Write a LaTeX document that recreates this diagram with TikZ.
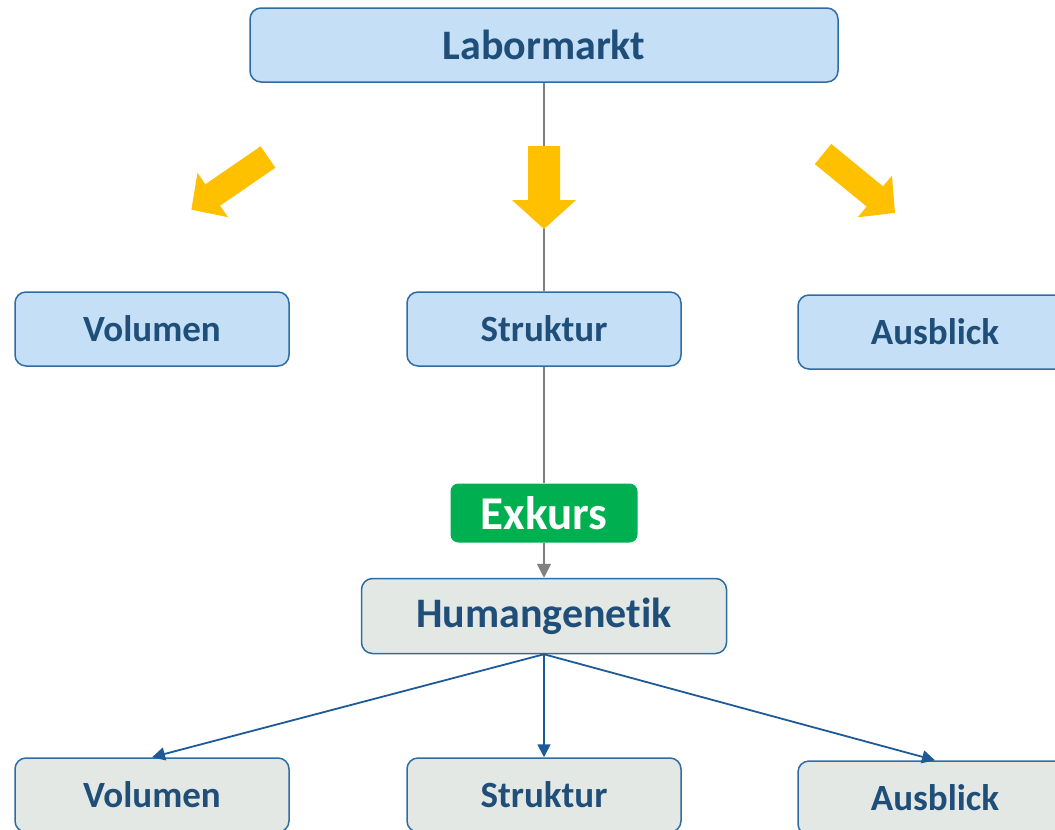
\documentclass[tikz,border=0pt]{standalone}
\usepackage{fontspec}
\setmainfont{Carlito}[Ligatures=CommonOff]
\usetikzlibrary{arrows.meta}
\definecolor{boxblue}{HTML}{C5DFF7}
\definecolor{boxgrey}{HTML}{E3E8E5}
\definecolor{edgeblue}{HTML}{2E6CA6}
\definecolor{lineblue}{HTML}{1F5A98}
\definecolor{textblue}{HTML}{1F4E79}
\definecolor{gold}{HTML}{FFC000}
\definecolor{exgreen}{HTML}{00B050}
\tikzset{
  topbox/.style={draw=edgeblue,line width=1.5pt,fill=boxblue,rounded corners=11pt,
    text=textblue,font=\bfseries\fontsize{37}{44}\selectfont,
    minimum width=274pt,minimum height=74pt,inner sep=0pt},
  lowbox/.style={topbox,fill=boxgrey},
  exkbox/.style={fill=exgreen,rounded corners=8pt,text=white,
    font=\bfseries\fontsize{47}{54}\selectfont,
    minimum width=187pt,minimum height=59pt,inner sep=0pt},
  greyline/.style={draw=gray,line width=1.8pt},
  blueline/.style={draw=lineblue,line width=1.8pt,-{Triangle[length=13pt,width=13pt]}}
}
\begin{document}
\begin{tikzpicture}[x=1pt,y=-1pt,line join=round]
        \useasboundingbox (0,0) rectangle (1055,830);
        \clip (0,0) rectangle (1055,830);
        \node[topbox,minimum width=588pt,font=\bfseries\fontsize{42}{50}\selectfont] (lab) at (544,45) {Labormarkt};
        \node[topbox] (vol1) at (152,329) {Volumen};
        \node[topbox] (str1) at (544,329) {Struktur};
        \node[topbox] (aus1) at (935,332) {Ausblick};
        \node[exkbox] (exk) at (544,513) {Exkurs};
        \node[lowbox,minimum width=365pt,minimum height=75pt,font=\bfseries\fontsize{42}{50}\selectfont] (hum) at (544,616) {Humangenetik};
        \node[lowbox] (vol2) at (152,795) {Volumen};
        \node[lowbox] (str2) at (544,795) {Struktur};
        \node[lowbox] (aus2) at (935,798) {Ausblick};

        \draw[greyline] (lab) -- (str1);
        \draw[greyline] (str1) -- (exk);
        \draw[greyline,-{Triangle[length=14pt,width=14pt]}] (exk) -- (hum);

        \draw[blueline] (hum.south) -- (vol2.north);
        \draw[blueline] (hum.south) -- (str2.north);
        \draw[blueline] (hum.south) -- (aus2.north);

        % yellow block arrows
        \fill[gold,shift={(268,157)},rotate=214.5] (0,-13)--(67,-13)--(67,-27)--(93,0)--(67,27)--(67,13)--(0,13)--cycle;
        \fill[gold,shift={(544,146)},rotate=-90] (0,-16)--(54,-16)--(54,-32)--(83,0)--(54,32)--(54,16)--(0,16)--cycle;
        \fill[gold,shift={(823,154)},rotate=-39.3] (0,-13)--(67,-13)--(67,-27)--(93,0)--(67,27)--(67,13)--(0,13)--cycle;
\end{tikzpicture}
\end{document}
